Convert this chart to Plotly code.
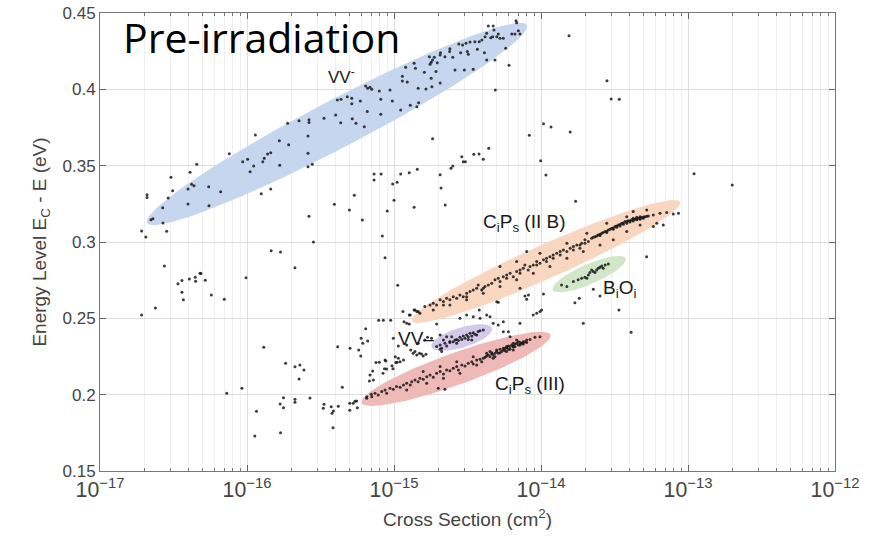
import numpy as np
import plotly.graph_objects as go

# ---------------- data (cross section in cm^2, energy level in eV) ----------------
# scattered points (including those inside the VV- region)
sigma_other = [
    1.92e-17, 2.05e-17, 2.09e-17, 2.09e-17, 2.22e-17, 2.29e-17, 2.67e-17, 2.68e-17, 2.84e-17, 2.91e-17,
    3.04e-17, 3.12e-17, 3.97e-17, 3.97e-17, 4.10e-17, 4.20e-17, 4.36e-17, 4.55e-17, 5.49e-17, 5.51e-17,
    6.62e-17, 7.58e-17, 9.35e-17, 1.01e-16, 1.05e-16, 1.11e-16, 1.14e-16, 1.25e-16, 1.28e-16, 1.31e-16,
    1.38e-16, 1.45e-16, 1.45e-16, 1.66e-16, 1.67e-16, 1.89e-16, 1.92e-16, 2.26e-16, 2.60e-16, 2.60e-16,
    2.60e-16, 2.64e-16, 2.64e-16, 2.78e-16, 2.64e-16, 2.83e-16, 1.46e-16, 1.69e-16, 3.34e-16, 3.93e-16,
    4.01e-16, 4.12e-16, 4.36e-16, 4.34e-16, 4.81e-16, 4.97e-16, 5.16e-16, 5.16e-16, 5.20e-16, 5.37e-16,
    5.51e-16, 5.90e-16, 6.28e-16, 6.09e-16, 6.42e-16, 6.62e-16, 6.58e-16,
    6.87e-16, 7.06e-16, 7.94e-16, 8.13e-16, 8.13e-16, 9.39e-16, 9.74e-16, 1.11e-15, 1.14e-15, 1.14e-15,
    1.20e-15, 1.23e-15, 1.29e-15, 1.37e-15, 1.43e-15, 1.46e-15, 1.47e-15, 1.40e-15, 1.61e-15, 1.65e-15,
    1.74e-15, 1.76e-15, 1.79e-15, 1.83e-15, 1.88e-15, 1.93e-15, 1.97e-15, 1.79e-15, 1.81e-15, 2.06e-15,
    2.06e-15, 2.07e-15, 2.22e-15, 2.40e-15, 2.39e-15, 2.51e-15, 2.60e-15, 2.76e-15, 2.84e-15, 2.93e-15,
    3.01e-15, 3.09e-15, 3.15e-15, 3.20e-15, 3.29e-15, 3.46e-15, 3.55e-15, 3.69e-15, 3.80e-15, 3.96e-15,
    4.12e-15, 4.16e-15, 4.27e-15, 4.27e-15, 4.38e-15, 4.55e-15, 4.69e-15, 4.73e-15, 4.79e-15, 4.86e-15,
    4.89e-15, 5.00e-15, 5.12e-15, 5.26e-15, 5.54e-15, 5.75e-15, 6.06e-15, 6.33e-15, 6.65e-15, 6.76e-15,
    6.83e-15, 7.01e-15, 7.20e-15, 8.33e-15, 1.83e-15,
    1.55e-14, 2.81e-14, 3.00e-14, 3.41e-14, 1.04e-14, 1.17e-14, 1.58e-14, 9.95e-15, 1.08e-14, 1.72e-14,
    1.10e-13, 2.00e-13, 2.89e-15, 2.96e-15, 3.06e-15, 3.49e-15, 3.79e-15, 4.05e-15, 4.41e-15, 2.44e-15,
    2.51e-15, 2.06e-15, 2.09e-15, 2.23e-15,
    7.32e-16, 7.32e-16, 8.17e-16, 8.33e-16, 8.69e-16, 9.00e-16, 9.80e-16, 1.00e-15, 1.05e-15, 1.11e-15,
    1.27e-15, 1.37e-15, 1.44e-15, 2.12e-16, 2.74e-17,
    1.92e-17, 2.38e-17, 3.39e-17, 3.61e-17, 3.61e-17, 3.69e-17, 4.05e-17, 4.45e-17, 4.47e-17, 4.79e-17,
    4.86e-17, 5.20e-17, 5.72e-17, 7.01e-17, 9.84e-17, 7.28e-17, 9.23e-17, 1.30e-16, 1.16e-16, 1.13e-16,
    1.83e-16, 2.12e-16, 2.29e-16, 2.44e-16, 2.26e-16, 1.77e-16, 1.68e-16, 1.77e-16, 2.12e-16, 2.12e-16,
    2.68e-16, 1.69e-16, 3.34e-16, 3.30e-16, 3.74e-16, 3.79e-16, 3.87e-16, 4.18e-16, 3.85e-16, 4.45e-16,
    4.14e-16, 5.02e-16, 5.00e-16, 5.00e-16, 5.28e-16, 5.43e-16, 5.57e-16, 5.63e-16, 5.75e-16, 5.94e-16,
    5.98e-16, 6.42e-16, 6.62e-16, 6.52e-16, 6.80e-16, 6.87e-16, 7.16e-16, 7.01e-16, 7.86e-16, 8.46e-16,
    7.94e-16, 8.42e-16, 8.61e-16, 8.79e-16, 9.49e-16, 9.69e-16, 9.84e-16, 9.89e-16, 1.03e-15, 1.05e-15,
    1.07e-15, 1.06e-15,
    1.17e-15, 1.22e-15, 1.27e-15, 1.37e-15, 1.43e-15,
    6.13e-16, 7.24e-16, 7.54e-16, 8.69e-16, 8.91e-16, 1.02e-15, 1.07e-15, 1.10e-15, 1.16e-15, 1.15e-15,
    1.27e-15, 1.22e-15, 1.30e-15, 1.35e-15, 1.39e-15, 1.43e-15, 1.49e-15, 1.54e-15, 1.58e-15, 1.65e-15,
    1.46e-15, 1.62e-15, 1.69e-15, 1.80e-15, 1.95e-15, 2.06e-15, 2.11e-15, 2.28e-15, 2.40e-15, 2.00e-15,
    2.22e-15, 2.81e-15, 3.12e-15, 3.46e-15, 3.85e-15, 4.27e-15, 5.00e-15, 4.73e-15, 5.12e-15, 5.54e-15,
    6.00e-15, 6.16e-15, 6.47e-15, 7.20e-15, 7.39e-15, 8.85e-15, 9.35e-15, 9.84e-15, 1.01e-14,
    7.99e-15, 5.23e-14, 7.20e-15, 7.77e-15, 1.04e-14, 1.70e-14, 1.82e-14, 2.27e-14, 1.94e-14, 3.39e-14,
    4.10e-14, 5.12e-15, 8.21e-15, 7.99e-15, 3.80e-15, 4.50e-15, 5.54e-15, 2.52e-14,
]
energy_other = [
    0.3072, 0.3033, 0.3310, 0.3292, 0.3146, 0.3153, 0.3225, 0.3125, 0.3070, 0.3288,
    0.3424, 0.3336, 0.3347, 0.3249, 0.3457, 0.3378, 0.3369, 0.3509, 0.3362, 0.3238,
    0.3329, 0.3578, 0.3526, 0.3542, 0.3460, 0.3498, 0.3701, 0.3316, 0.3526, 0.3548,
    0.3576, 0.3347, 0.3585, 0.3664, 0.3502, 0.3778, 0.3637, 0.3795, 0.3694, 0.3581,
    0.3493, 0.3800, 0.3782, 0.3509, 0.3168, 0.3000, 0.2943, 0.2935, 0.3810, 0.3247,
    0.3832, 0.3930, 0.3935, 0.3781, 0.3952, 0.3210, 0.3906, 0.3941, 0.3808, 0.3306,
    0.3778, 0.3924, 0.3755, 0.3144, 0.4022, 0.4007, 0.3854,
    0.4013, 0.4000, 0.3989, 0.3935, 0.3837, 0.3996, 0.3924, 0.3865, 0.4055, 0.4085,
    0.4144, 0.4048, 0.3895, 0.4171, 0.3886, 0.4007, 0.3912, 0.4138, 0.4112, 0.4002,
    0.4214, 0.4164, 0.4177, 0.4192, 0.4210, 0.4116, 0.4174, 0.4072, 0.4017, 0.4042,
    0.4225, 0.4240, 0.4214, 0.4266, 0.4247, 0.4210, 0.4127, 0.4297, 0.4240, 0.4290,
    0.4127, 0.4302, 0.4247, 0.4229, 0.4310, 0.4131, 0.4312, 0.4262, 0.4312, 0.4323,
    0.4240, 0.4345, 0.4367, 0.4192, 0.4415, 0.4338, 0.4345, 0.4415, 0.4389, 0.4192,
    0.3996, 0.4345, 0.4362, 0.4334, 0.4334, 0.4269, 0.4157, 0.4362, 0.4362, 0.4450,
    0.4436, 0.4384, 0.4362, 0.3699, 0.3677,
    0.4351, 0.4057, 0.3937, 0.3935, 0.3775, 0.3753, 0.3721, 0.3533, 0.3439, 0.3267,
    0.3447, 0.3373, 0.3559, 0.3526, 0.3526, 0.3574, 0.3576, 0.3542, 0.3614, 0.3483,
    0.3498, 0.3441, 0.3354, 0.3242,
    0.3446, 0.3406, 0.3446, 0.3039, 0.2897, 0.3203, 0.3380, 0.3273, 0.3391, 0.3446,
    0.3454, 0.3227, 0.3476, 0.2832, 0.2843,
    0.2522, 0.2568, 0.2727, 0.2747, 0.2671, 0.2622, 0.2758, 0.2769, 0.2743, 0.2795,
    0.2793, 0.2749, 0.2653, 0.2625, 0.2766, 0.2009, 0.2042, 0.2310, 0.1891, 0.1729,
    0.2206, 0.2183, 0.2194, 0.2162, 0.2103, 0.1980, 0.1939, 0.1915, 0.1970, 0.1950,
    0.1978, 0.1751, 0.1937, 0.1911, 0.1921, 0.1878, 0.1893, 0.1924, 0.1784, 0.2048,
    0.2314, 0.2304, 0.1944, 0.1898, 0.1944, 0.1957, 0.1959, 0.1915, 0.2293, 0.2253,
    0.2369, 0.2432, 0.2352, 0.1987, 0.2090, 0.2129, 0.2155, 0.2003, 0.2487, 0.2487,
    0.2212, 0.2140, 0.2170, 0.2221, 0.2487, 0.2190, 0.2170, 0.2369, 0.2210, 0.2212,
    0.2319, 0.2716,
    0.2478, 0.2468, 0.2522, 0.2555, 0.2544,
    0.2337, 0.2096, 0.2210, 0.2227, 0.2168, 0.2249, 0.2238, 0.2216, 0.2227, 0.2544,
    0.2463, 0.2325, 0.2293, 0.2271, 0.2282, 0.2260, 0.2271, 0.2267, 0.2253, 0.2265,
    0.2337, 0.2358, 0.2376, 0.2369, 0.2463, 0.2391, 0.2282, 0.2380, 0.2349, 0.2042,
    0.2035, 0.2500, 0.2522, 0.2510, 0.2500, 0.2522, 0.2609, 0.2468, 0.2457, 0.2412,
    0.2412, 0.2380, 0.2337, 0.2468, 0.2337, 0.2522, 0.2533, 0.2544, 0.2555,
    0.2937, 0.2904, 0.2697, 0.2646, 0.2660, 0.2602, 0.2631, 0.2690, 0.2468, 0.2555,
    0.2409, 0.2605, 0.2653, 0.2625, 0.2555, 0.2510, 0.2478, 0.2646,
]

# C_iP_s (II B) cluster
sigma_cips_iib = [
    1.29e-15, 1.39e-15, 1.46e-15, 1.62e-15, 1.76e-15, 1.85e-15, 1.95e-15, 2.06e-15, 2.17e-15, 2.28e-15,
    2.40e-15, 2.53e-15, 2.67e-15, 2.81e-15, 2.96e-15, 3.12e-15, 3.29e-15, 3.46e-15, 3.65e-15, 3.74e-15,
    3.95e-15, 4.16e-15, 4.38e-15, 4.62e-15, 4.86e-15, 5.12e-15, 5.26e-15, 5.54e-15, 5.84e-15, 6.16e-15,
    6.48e-15, 6.83e-15, 7.20e-15, 7.58e-15, 7.77e-15, 8.18e-15, 8.42e-15, 8.87e-15, 9.35e-15, 9.84e-15,
    1.04e-14, 1.09e-14, 1.15e-14, 1.21e-14, 1.28e-14, 1.35e-14, 1.42e-14, 1.50e-14, 1.58e-14, 1.66e-14,
    1.75e-14, 1.84e-14, 1.89e-14, 1.99e-14, 2.10e-14, 2.21e-14, 2.33e-14, 2.45e-14, 2.59e-14, 2.73e-14,
    2.87e-14, 3.03e-14, 3.19e-14, 3.36e-14, 3.54e-14, 3.73e-14, 3.92e-14, 4.14e-14, 4.36e-14, 4.59e-14,
    4.84e-14, 5.10e-14, 5.37e-14,
    5.26e-15, 6.83e-15, 9.84e-15, 1.50e-14, 2.05e-14, 2.80e-14, 3.83e-14, 4.24e-14, 5.24e-14, 5.81e-14,
    6.45e-14, 7.16e-14, 7.94e-14, 8.61e-14, 6.13e-14, 6.79e-14, 5.81e-14, 4.72e-14, 3.83e-14, 3.10e-14,
    2.52e-14, 1.94e-14, 1.50e-14, 1.15e-14, 8.87e-15, 6.83e-15, 5.26e-15, 4.05e-15, 3.12e-15, 2.40e-15,
    1.85e-15,
    2.27e-14, 2.39e-14, 2.52e-14, 2.65e-14, 2.80e-14, 2.95e-14, 3.10e-14, 3.27e-14, 3.45e-14, 3.63e-14,
    3.83e-14, 4.03e-14, 4.24e-14, 4.48e-14, 4.72e-14, 4.97e-14, 5.24e-14, 3.27e-14, 3.45e-14, 3.63e-14,
    3.83e-14, 4.03e-14, 4.24e-14, 4.48e-14, 4.72e-14, 4.97e-14, 4.24e-14, 4.48e-14, 4.72e-14, 2.52e-14,
    2.80e-14, 3.10e-14,
    5.84e-15, 7.20e-15, 1.09e-14, 1.35e-14, 1.66e-14, 3.12e-15, 2.17e-15, 1.50e-15, 4.05e-15, 9.35e-15,
    1.21e-14, 1.84e-14, 1.99e-14,
]
energy_cips_iib = [
    0.2522, 0.2555, 0.2544, 0.2577, 0.2588, 0.2599, 0.2588, 0.2621, 0.2610, 0.2632,
    0.2621, 0.2642, 0.2632, 0.2653, 0.2642, 0.2664, 0.2675, 0.2686, 0.2697, 0.2719,
    0.2686, 0.2708, 0.2719, 0.2730, 0.2752, 0.2762, 0.2741, 0.2773, 0.2784, 0.2795,
    0.2773, 0.2806, 0.2817, 0.2828, 0.2850, 0.2817, 0.2839, 0.2850, 0.2872, 0.2861,
    0.2883, 0.2893, 0.2904, 0.2915, 0.2926, 0.2915, 0.2948, 0.2937, 0.2959, 0.2970,
    0.2981, 0.2959, 0.2992, 0.3014, 0.3003, 0.3024, 0.3035, 0.3046, 0.3057, 0.3068,
    0.3079, 0.3090, 0.3101, 0.3112, 0.3123, 0.3134, 0.3140, 0.3145, 0.3149, 0.3155,
    0.3160, 0.3166, 0.3171,
    0.2839, 0.2872, 0.2926, 0.2992, 0.3057, 0.3123, 0.3166, 0.3199, 0.3210, 0.3177,
    0.3188, 0.3193, 0.3184, 0.3188, 0.3123, 0.3112, 0.3101, 0.3112, 0.3068, 0.3014,
    0.2981, 0.2937, 0.2893, 0.2839, 0.2795, 0.2752, 0.2708, 0.2664, 0.2621, 0.2588,
    0.2555,
    0.3031, 0.3040, 0.3051, 0.3062, 0.3070, 0.3083, 0.3092, 0.3105, 0.3114, 0.3125,
    0.3134, 0.3140, 0.3147, 0.3153, 0.3158, 0.3164, 0.3169, 0.3096, 0.3105, 0.3116,
    0.3123, 0.3131, 0.3138, 0.3145, 0.3149, 0.3155, 0.3155, 0.3162, 0.3166, 0.3042,
    0.3062, 0.3083,
    0.2762, 0.2795, 0.2872, 0.2937, 0.2948, 0.2642, 0.2588, 0.2533, 0.2697, 0.2850,
    0.2893, 0.2981, 0.2992,
]

# B_iO_i cluster
sigma_bioi = [1.38e-14, 1.50e-14, 1.66e-14, 1.79e-14, 1.89e-14, 1.99e-14, 2.10e-14, 2.15e-14, 2.21e-14, 2.27e-14,
              2.39e-14, 2.45e-14, 2.52e-14, 2.59e-14, 2.73e-14, 2.87e-14, 2.65e-14, 2.33e-14, 2.05e-14]
energy_bioi = [0.2719, 0.2708, 0.2741, 0.2752, 0.2762, 0.2769, 0.2784, 0.2800, 0.2817, 0.2806,
               0.2817, 0.2828, 0.2835, 0.2843, 0.2850, 0.2856, 0.2828, 0.2800, 0.2762]

# VV= cluster
sigma_vv2 = [1.95e-15, 2.06e-15, 2.11e-15, 2.22e-15, 2.28e-15, 2.40e-15, 2.53e-15, 2.60e-15, 2.67e-15, 2.74e-15,
             2.81e-15, 2.89e-15, 2.96e-15, 3.04e-15, 3.12e-15, 3.20e-15, 3.29e-15, 3.38e-15, 3.46e-15, 3.55e-15,
             3.65e-15, 3.74e-15, 3.85e-15, 4.05e-15, 2.06e-15, 2.47e-15, 3.20e-15, 2.67e-15, 3.38e-15, 2.17e-15]
energy_vv2 = [0.2315, 0.2326, 0.2304, 0.2336, 0.2319, 0.2341, 0.2347, 0.2358, 0.2362, 0.2354,
              0.2376, 0.2362, 0.2384, 0.2369, 0.2391, 0.2380, 0.2402, 0.2384, 0.2406, 0.2395,
              0.2391, 0.2413, 0.2419, 0.2424, 0.2297, 0.2380, 0.2362, 0.2336, 0.2358, 0.2358]

# C_iP_s (III) cluster
sigma_cips_iii = [
    6.52e-16, 7.06e-16, 7.43e-16, 7.81e-16, 8.25e-16, 8.69e-16, 8.91e-16, 9.39e-16, 9.89e-16, 1.04e-15,
    1.10e-15, 1.16e-15, 1.22e-15, 1.29e-15, 1.32e-15, 1.39e-15, 1.46e-15, 1.50e-15, 1.58e-15, 1.67e-15,
    1.76e-15, 1.85e-15, 1.95e-15, 2.06e-15, 2.17e-15, 2.28e-15, 2.40e-15, 2.53e-15, 2.67e-15, 2.74e-15,
    2.89e-15, 3.04e-15, 3.20e-15, 3.38e-15, 3.46e-15, 3.65e-15, 3.85e-15, 3.95e-15, 4.16e-15, 4.27e-15,
    4.50e-15, 4.62e-15, 4.86e-15, 4.99e-15, 5.26e-15, 5.54e-15, 5.69e-15, 6.00e-15, 6.16e-15, 6.48e-15,
    6.65e-15, 7.01e-15, 7.20e-15, 7.58e-15, 7.99e-15, 8.42e-15, 9.10e-15, 9.84e-15,
    1.22e-15, 1.67e-15, 2.17e-15, 2.81e-15, 3.65e-15, 4.73e-15, 6.48e-15, 1.58e-15, 2.06e-15, 2.67e-15,
    3.46e-15, 4.50e-15, 5.84e-15, 6.83e-15,
    4.27e-15, 4.38e-15, 4.62e-15, 4.73e-15, 4.99e-15, 5.12e-15, 5.26e-15, 5.40e-15, 5.54e-15, 5.69e-15,
    5.84e-15, 6.00e-15, 6.16e-15, 6.32e-15, 6.48e-15, 6.65e-15, 6.83e-15, 7.01e-15, 7.20e-15, 7.39e-15,
    7.58e-15, 7.77e-15, 7.99e-15, 5.84e-15, 4.86e-15, 4.05e-15,
]
energy_cips_iii = [
    0.1976, 0.1987, 0.2009, 0.1998, 0.2020, 0.2031, 0.2009, 0.2042, 0.2035, 0.2053,
    0.2048, 0.2064, 0.2074, 0.2064, 0.2085, 0.2096, 0.2085, 0.2107, 0.2101, 0.2118,
    0.2129, 0.2114, 0.2140, 0.2151, 0.2136, 0.2162, 0.2157, 0.2173, 0.2184, 0.2162,
    0.2195, 0.2188, 0.2205, 0.2216, 0.2201, 0.2227, 0.2232, 0.2216, 0.2245, 0.2253,
    0.2249, 0.2267, 0.2271, 0.2282, 0.2275, 0.2293, 0.2304, 0.2297, 0.2315, 0.2319,
    0.2332, 0.2326, 0.2341, 0.2347, 0.2358, 0.2362, 0.2376, 0.2380,
    0.2031, 0.2074, 0.2107, 0.2140, 0.2195, 0.2238, 0.2293, 0.2151, 0.2184, 0.2216,
    0.2249, 0.2282, 0.2315, 0.2358,
    0.2271, 0.2260, 0.2275, 0.2260, 0.2293, 0.2271, 0.2297, 0.2282, 0.2304, 0.2288,
    0.2308, 0.2319, 0.2297, 0.2326, 0.2312, 0.2315, 0.2336, 0.2347, 0.2326, 0.2336,
    0.2332, 0.2347, 0.2341, 0.2282, 0.2249, 0.2238,
]

# defect regions: (label, tip A sigma, tip A energy, tip B sigma, tip B energy)
region_names = ["VV-", "CiPs (II B)", "BiOi", "VV=", "CiPs (III)"]
region_tip_a_sigma = [2.09e-17, 1.33e-15, 1.20e-14, 1.80e-15, 6.03e-16]
region_tip_a_energy = [0.3125, 0.2483, 0.2686, 0.2314, 0.1947]
region_tip_b_sigma = [8.0e-15, 8.83e-14, 3.77e-14, 4.64e-15, 1.16e-14]
region_tip_b_energy = [0.4421, 0.3262, 0.2893, 0.2435, 0.2391]

# ---------------- styling ----------------
region_colors = ["#c6d6ee", "#f9d6bf", "#d2e7c9", "#d3c9ea", "#efb9b8"]
region_halfwidth_px = [24, 17, 10, 10, 16]

W, H = 869, 541
ML, MR, MT, MB = 100, 34, 13, 70
PW, PH = W - ML - MR, H - MT - MB
XR = (-17, -12)
YR = (0.15, 0.45)


def to_px(s, e):
    return ((np.log10(s) - XR[0]) / (XR[1] - XR[0]) * PW, (np.asarray(e) - YR[0]) / (YR[1] - YR[0]) * PH)


def from_px(u, v):
    return 10 ** (u / PW * (XR[1] - XR[0]) + XR[0]), v / PH * (YR[1] - YR[0]) + YR[0]


fig = go.Figure()

t = np.linspace(0, 2 * np.pi, 120)
for i in range(len(region_names)):
    ua, va = to_px(region_tip_a_sigma[i], region_tip_a_energy[i])
    ub, vb = to_px(region_tip_b_sigma[i], region_tip_b_energy[i])
    cu, cv = (ua + ub) / 2, (va + vb) / 2
    a = np.hypot(ub - ua, vb - va) / 2
    ang = np.arctan2(vb - va, ub - ua)
    b = region_halfwidth_px[i]
    uu = cu + a * np.cos(t) * np.cos(ang) - b * np.sin(t) * np.sin(ang)
    vv = cv + a * np.cos(t) * np.sin(ang) + b * np.sin(t) * np.cos(ang)
    xs, ys = from_px(uu, vv)
    fig.add_trace(go.Scatter(x=xs, y=ys, mode="lines", fill="toself",
                             fillcolor=region_colors[i], line=dict(width=0),
                             hoverinfo="skip", showlegend=False))

all_sigma = sigma_other + sigma_cips_iib + sigma_bioi + sigma_vv2 + sigma_cips_iii
all_energy = energy_other + energy_cips_iib + energy_bioi + energy_vv2 + energy_cips_iii
fig.add_trace(go.Scatter(x=all_sigma, y=all_energy, mode="markers",
                         marker=dict(size=3, color="rgba(25,25,25,0.85)"),
                         showlegend=False))

lab_font = dict(family="Liberation Sans, Arial, sans-serif", size=19, color="#1a1a1a")
annos = [
    ("Pre-irradiation", -15.898, 0.4345, dict(family="Open Sans, sans-serif", size=41, color="#000")),
    ("VV<sup>-</sup>", -15.354, 0.4090, dict(lab_font, size=17)),
    ("C<sub>i</sub>P<sub>s</sub> (II B)", -14.109, 0.3125, lab_font),
    ("B<sub>i</sub>O<sub>i</sub>", -13.469, 0.2692, lab_font),
    ("VV–", -14.850, 0.2371, lab_font),
    ("C<sub>i</sub>P<sub>s</sub> (III)", -14.075, 0.2063, lab_font),
]
for txt, ax_, ay_, fnt in annos:
    fig.add_annotation(x=ax_, y=ay_, xref="x", yref="y", text=txt, showarrow=False,
                       font=fnt, xanchor="center", yanchor="middle")

axis_font = dict(family="Liberation Sans, Arial, sans-serif", size=17, color="#444")
title_font = dict(family="Liberation Sans, Arial, sans-serif", size=19, color="#444")
fig.update_xaxes(type="log", range=list(XR), dtick=1, exponentformat="power",
                 showgrid=True, gridcolor="#dedede", gridwidth=1,
                 minor=dict(dtick="D1", showgrid=True, gridcolor="#eeeeee", ticks="inside",
                            ticklen=3, tickcolor="#777"),
                 ticks="inside", ticklen=6, tickcolor="#666",
                 showline=True, linecolor="#777", linewidth=1, mirror="allticks",
                 zeroline=False, tickfont=axis_font, automargin=False,
                 title=dict(text="Cross Section (cm<sup>2</sup>)", font=title_font, standoff=12))
fig.update_yaxes(range=list(YR), tickvals=[0.15, 0.2, 0.25, 0.3, 0.35, 0.4, 0.45],
                 ticktext=["0.15", "0.2", "0.25", "0.3", "0.35", "0.4", "0.45"],
                 showgrid=True, gridcolor="#dedede", gridwidth=1,
                 ticks="inside", ticklen=6, tickcolor="#666",
                 showline=True, linecolor="#777", linewidth=1, mirror="allticks",
                 zeroline=False, tickfont=axis_font, automargin=False, ticklabeloverflow="allow",
                 title=dict(text="Energy Level E<sub>C</sub> - E (eV)", font=title_font, standoff=10))

fig.update_layout(width=W, height=H, margin=dict(l=ML, r=MR, t=MT, b=MB),
                  paper_bgcolor="white", plot_bgcolor="white", showlegend=False)

# remove the default page margin so the figure sits at the window's top-left corner
fig.write_html("out.html", config={"displayModeBar": False},
               post_script="document.body.style.margin='0px';")
